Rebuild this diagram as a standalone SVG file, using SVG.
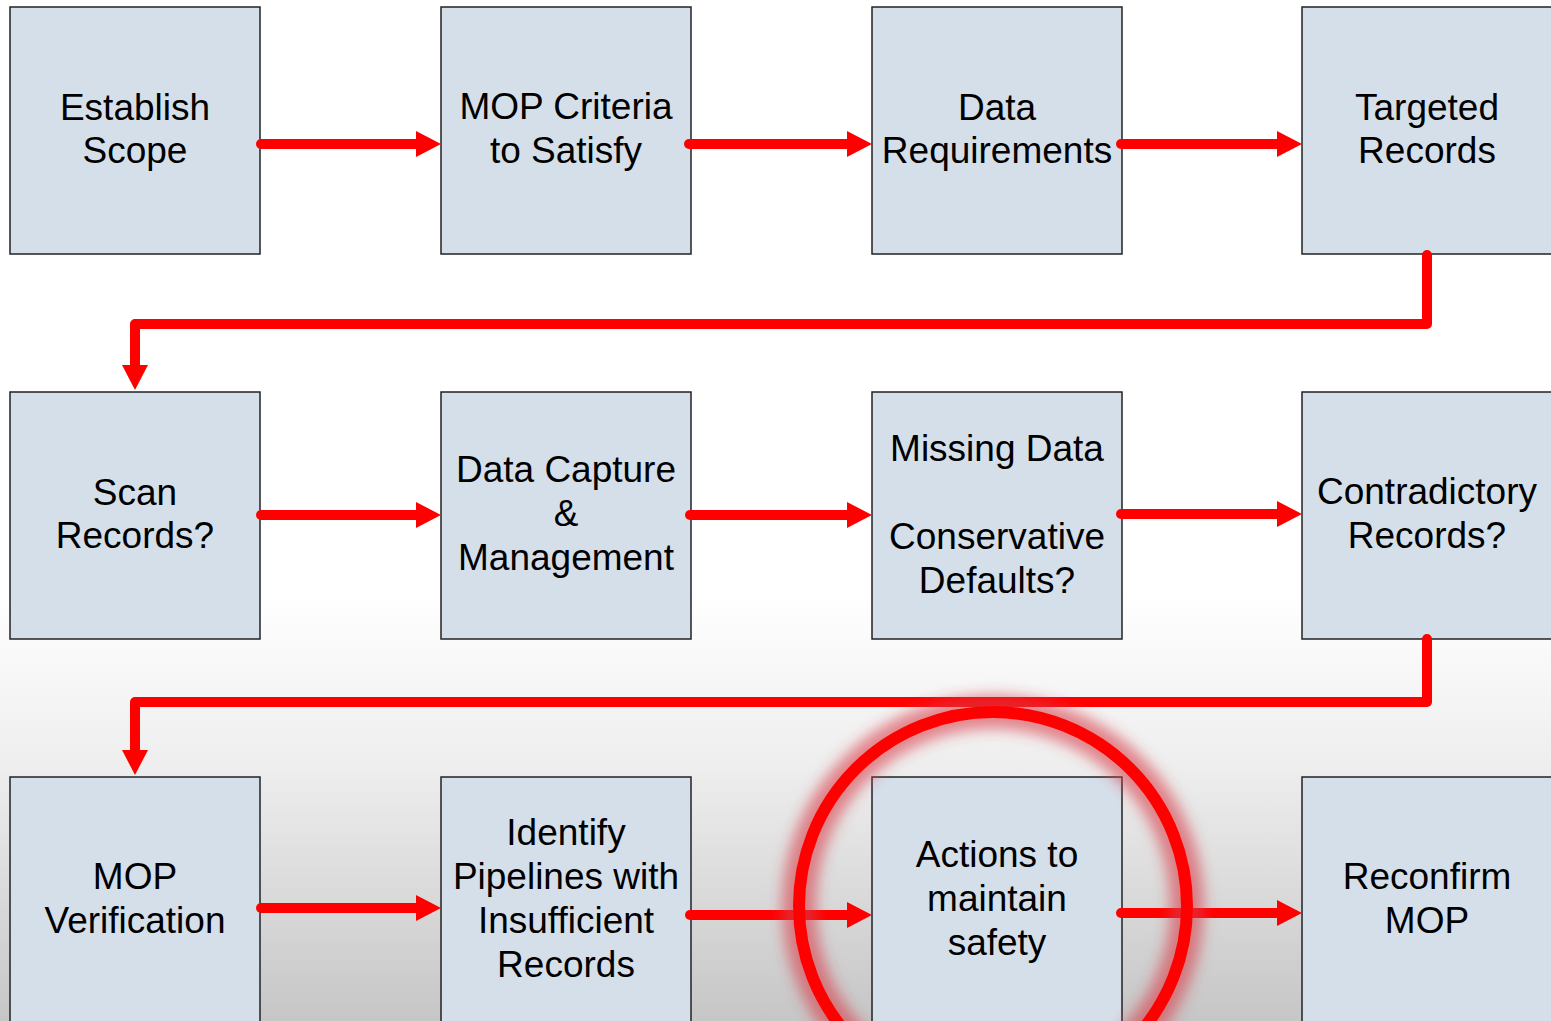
<svg xmlns="http://www.w3.org/2000/svg" width="1551" height="1021" viewBox="0 0 1551 1021">
<defs>
<linearGradient id="bg" x1="0" y1="0" x2="0" y2="1">
<stop offset="0" stop-color="#ffffff"/>
<stop offset="0.58" stop-color="#ffffff"/>
<stop offset="0.75" stop-color="#eeeeee"/>
<stop offset="1" stop-color="#c6c6c6"/>
</linearGradient>
<marker id="ah" viewBox="0 0 25 26" refX="1" refY="13" markerWidth="25" markerHeight="26" orient="auto" markerUnits="userSpaceOnUse">
<path d="M0,0 L25,13 L0,26 Z" fill="#ff0000"/>
</marker>
<filter id="glow" x="-30%" y="-30%" width="160%" height="160%">
<feGaussianBlur stdDeviation="7"/>
</filter>
<style>
.box{fill:#d5dfea;stroke:#222;stroke-width:1.5}
.t{font-family:"Liberation Sans",Arial,sans-serif;font-size:37px;fill:#000;text-anchor:middle}
.c{fill:none;stroke:#ff0000;stroke-width:10;stroke-linecap:round;stroke-linejoin:round}
</style>
</defs>
<rect width="1551" height="1021" fill="url(#bg)"/>

<g id="n1"><rect class="box" x="10" y="7" width="250" height="247"/><text class="t" x="135" y="120">Establish</text><text class="t" x="135" y="163">Scope</text></g>
<g id="n2"><rect class="box" x="441" y="7" width="250" height="247"/><text class="t" x="566" y="119">MOP Criteria</text><text class="t" x="566" y="163">to Satisfy</text></g>
<g id="n3"><rect class="box" x="872" y="7" width="250" height="247"/><text class="t" x="997" y="120">Data</text><text class="t" x="997" y="163">Requirements</text></g>
<g id="n4"><rect class="box" x="1302" y="7" width="260" height="247"/><text class="t" x="1427" y="120">Targeted</text><text class="t" x="1427" y="163">Records</text></g>

<g id="n5"><rect class="box" x="10" y="392" width="250" height="247"/><text class="t" x="135" y="505">Scan</text><text class="t" x="135" y="548">Records?</text></g>
<g id="n6"><rect class="box" x="441" y="392" width="250" height="247"/><text class="t" x="566" y="482">Data Capture</text><text class="t" x="566" y="526">&amp;</text><text class="t" x="566" y="570">Management</text></g>
<g id="n7"><rect class="box" x="872" y="392" width="250" height="247"/><text class="t" x="997" y="461">Missing Data</text><text class="t" x="997" y="549">Conservative</text><text class="t" x="997" y="593">Defaults?</text></g>
<g id="n8"><rect class="box" x="1302" y="392" width="260" height="247"/><text class="t" x="1427" y="504">Contradictory</text><text class="t" x="1427" y="548">Records?</text></g>

<g id="n9"><rect class="box" x="10" y="777" width="250" height="260"/><text class="t" x="135" y="889">MOP</text><text class="t" x="135" y="933">Verification</text></g>
<g id="n10"><rect class="box" x="441" y="777" width="250" height="260"/><text class="t" x="566" y="845">Identify</text><text class="t" x="566" y="889">Pipelines with</text><text class="t" x="566" y="933">Insufficient</text><text class="t" x="566" y="977">Records</text></g>
<g id="n11"><rect class="box" x="872" y="777" width="250" height="260"/><text class="t" x="997" y="867">Actions to</text><text class="t" x="997" y="911">maintain</text><text class="t" x="997" y="955">safety</text></g>
<g id="n12"><rect class="box" x="1302" y="777" width="260" height="260"/><text class="t" x="1427" y="889">Reconfirm</text><text class="t" x="1427" y="933">MOP</text></g>

<g id="connectors">
<path class="c" d="M261,144 H417" marker-end="url(#ah)"/>
<path class="c" d="M689,144 H848" marker-end="url(#ah)"/>
<path class="c" d="M1121,144 H1278" marker-end="url(#ah)"/>
<path class="c" d="M1427,255 V324 H135 V366" marker-end="url(#ah)"/>
<path class="c" d="M261,515 H417" marker-end="url(#ah)"/>
<path class="c" d="M690,515 H848" marker-end="url(#ah)"/>
<path class="c" d="M1121,514 H1278" marker-end="url(#ah)"/>
<path class="c" d="M1427,639 V702 H135 V751" marker-end="url(#ah)"/>
<path class="c" d="M261,908 H417" marker-end="url(#ah)"/>
<path class="c" d="M690,915 H848" marker-end="url(#ah)"/>
<path class="c" d="M1121,913 H1278" marker-end="url(#ah)"/>
</g>

<g id="highlight">
<circle cx="993" cy="906" r="194" fill="none" stroke="#d83a48" stroke-opacity="0.6" stroke-width="34" filter="url(#glow)"/>
<circle cx="993" cy="906" r="194" fill="none" stroke="#ff0000" stroke-width="12"/>
</g>
</svg>
